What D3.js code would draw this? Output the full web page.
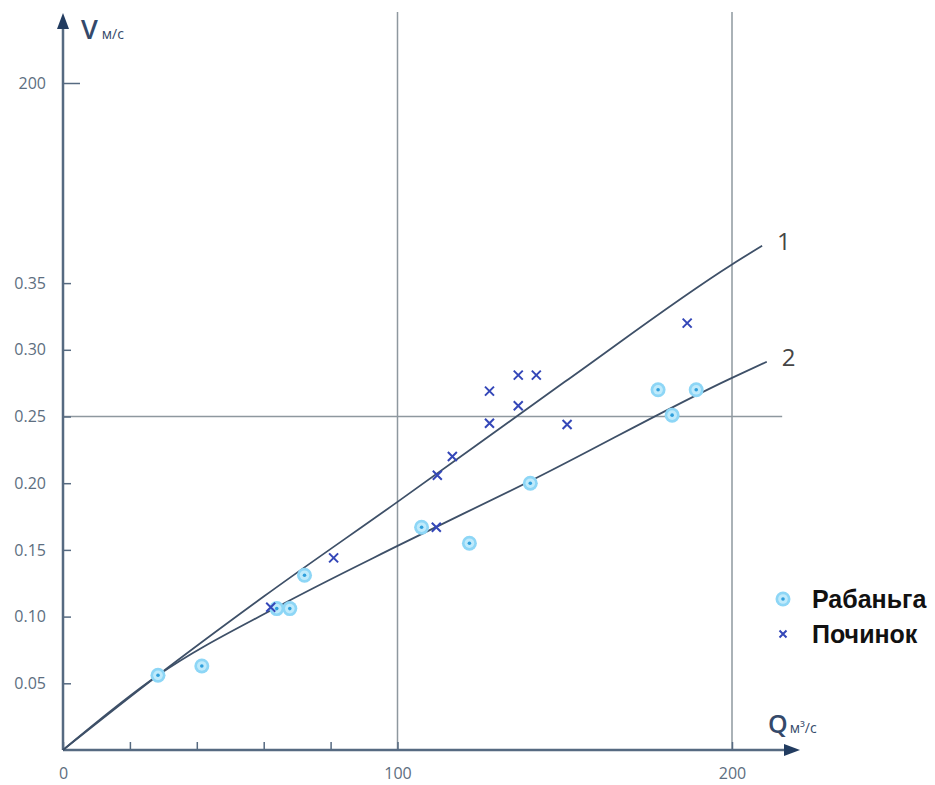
<!DOCTYPE html>
<html>
<head>
<meta charset="utf-8">
<script src="https://cdn.jsdelivr.net/npm/d3@7"></script>
<style>
  body { margin: 0; background: #fff; }
  svg { display: block; }
  .tick text { font-family: "Open Sans", sans-serif; font-size: 16px; fill: #5d6e80; }
</style>
</head>
<body>
<div class="chartWrapper"></div>
<script>
// Рабаньга: расход Q (м3/с) и скорость V (м/с)
var rabQ = [28.4, 41.5, 63.9, 67.8, 72.2, 107.2, 121.5, 139.7, 177.9, 182.1, 189.3];
var rabV = [0.056, 0.063, 0.106, 0.106, 0.131, 0.167, 0.155, 0.200, 0.270, 0.251, 0.270];
// Починок
var pochQ = [62.1, 80.9, 111.6, 111.9, 116.4, 127.5, 127.5, 136.1, 136.1, 141.5, 150.7, 186.6];
var pochV = [0.107, 0.144, 0.167, 0.206, 0.220, 0.245, 0.269, 0.258, 0.281, 0.281, 0.244, 0.320];
// кривые 1 и 2, точки
var curve1Q = [0, 28.4, 60, 100, 150, 200, 209];
var curve1V = [0, 0.056, 0.115, 0.186, 0.276, 0.364, 0.378];
var curve2Q = [0, 28.4, 63.9, 100, 140, 200, 210.4];
var curve2V = [0, 0.056, 0.107, 0.153, 0.202, 0.279, 0.291];
var curveNames = ["1", "2"];
var yTicks = [0.05, 0.10, 0.15, 0.20, 0.25, 0.30, 0.35, 0.5];
var yTickLabels = ["0.05", "0.10", "0.15", "0.20", "0.25", "0.30", "0.35", "200"];
var xTicks = [0, 20, 40, 60, 80, 100, 200];
var xTickLabels = ["0", "", "", "", "", "100", "200"];
var gridQ = [100, 200];
var gridV = [0.25];
var seriesNames = ["Рабаньга", "Починок"];

var width = 935, height = 785;
var svg = d3.select(".chartWrapper").append("svg")
    .attr("width", width).attr("height", height);

var x = d3.scaleLinear().domain([0, 200]).range([63, 732]);
var y = d3.scaleLinear().domain([0, 0.5]).range([750, 83]);
var axisColor = "#566a81", gridColor = "#8e989f";

// сетка
svg.selectAll(".vgrid").data(gridQ).enter().append("line")
    .attr("x1", d => x(d)).attr("x2", d => x(d))
    .attr("y1", 12).attr("y2", y(0))
    .attr("stroke", gridColor).attr("stroke-width", 1.5);
svg.selectAll(".hgrid").data(gridV).enter().append("line")
    .attr("x1", x(0)).attr("x2", x(215))
    .attr("y1", d => y(d)).attr("y2", d => y(d))
    .attr("stroke", gridColor).attr("stroke-width", 1.5);

// оси
var yAxis = d3.axisLeft(y).tickValues(yTicks)
    .tickFormat((d, i) => yTickLabels[i])
    .tickSizeInner(-8).tickSizeOuter(0).tickPadding(17);
var gy = svg.append("g").attr("transform", "translate(" + x(0) + ",0)").call(yAxis);
gy.select(".domain").remove();
gy.selectAll(".tick line").attr("stroke", axisColor).attr("stroke-width", 1.5)
    .attr("x2", d => d === 0.5 ? 17 : 8);

var xAxis = d3.axisBottom(x).tickValues(xTicks)
    .tickFormat((d, i) => xTickLabels[i])
    .tickSizeInner(-8).tickSizeOuter(0).tickPadding(18);
var gx = svg.append("g").attr("transform", "translate(0," + y(0) + ")").call(xAxis);
gx.select(".domain").remove();
gx.selectAll(".tick line").attr("stroke", axisColor).attr("stroke-width", 1.5);

svg.append("line").attr("x1", x(0)).attr("x2", x(0)).attr("y1", y(0)).attr("y2", 22)
    .attr("stroke", axisColor).attr("stroke-width", 2.5);
svg.append("line").attr("x1", x(0)).attr("x2", 790).attr("y1", y(0)).attr("y2", y(0))
    .attr("stroke", axisColor).attr("stroke-width", 2.5);
svg.append("path").attr("d", "M" + x(0) + ",13 L" + (x(0) - 6) + ",29 L" + (x(0) + 6) + ",29 Z")
    .attr("fill", "#223c60");
svg.append("path").attr("d", "M800," + y(0) + " L784," + (y(0) - 6) + " L784," + (y(0) + 6) + " Z")
    .attr("fill", "#223c60");

var vLab = svg.append("text").attr("x", 81).attr("y", 39)
    .style("font-family", "Open Sans, sans-serif").attr("fill", "#34496a");
vLab.append("tspan").style("font-size", "27px").style("font-weight", "600").text("V");
vLab.append("tspan").attr("dx", 4).style("font-size", "14px").text("м/с");
var qLab = svg.append("text").attr("x", 768).attr("y", 733)
    .style("font-family", "Open Sans, sans-serif").attr("fill", "#34496a");
qLab.append("tspan").style("font-size", "25px").style("font-weight", "600").text("Q");
qLab.append("tspan").attr("dx", 2).style("font-size", "14px").text("м³/с");

// кривые
var line = d3.line().x(d => x(d[0])).y(d => y(d[1])).curve(d3.curveMonotoneX);
var curves = [d3.zip(curve1Q, curve1V), d3.zip(curve2Q, curve2V)];
svg.selectAll(".curve").data(curves).enter().append("path")
    .attr("d", d => line(d))
    .attr("fill", "none").attr("stroke", "#3e5068").attr("stroke-width", 1.8);
svg.selectAll(".curveLabel").data(curves).enter().append("text")
    .attr("x", d => x(d[d.length - 1][0]) + 15)
    .attr("y", d => y(d[d.length - 1][1]) + 4)
    .style("font-family", "Open Sans, sans-serif").style("font-size", "24px")
    .attr("fill", "#454545")
    .text((d, i) => curveNames[i]);

// маркеры
function drawCircleMark(g) {
    g.append("circle").attr("r", 7.5).attr("fill", "#8dd6f6");
    g.append("circle").attr("r", 4.8).attr("fill", "#bfeafb");
    g.append("circle").attr("r", 1.8).attr("fill", "#2f9fdc");
}
function drawCross(g, s) {
    g.append("path").attr("d", "M" + (-s) + "," + (-s) + "L" + s + "," + s + "M" + (-s) + "," + s + "L" + s + "," + (-s))
        .attr("stroke", "#3447b8").attr("stroke-width", 2).attr("fill", "none");
}

svg.selectAll(".rab").data(d3.zip(rabQ, rabV)).enter().append("g")
    .attr("transform", d => "translate(" + x(d[0]) + "," + y(d[1]) + ")")
    .each(function () { drawCircleMark(d3.select(this)); });
svg.selectAll(".poch").data(d3.zip(pochQ, pochV)).enter().append("g")
    .attr("transform", d => "translate(" + x(d[0]) + "," + y(d[1]) + ")")
    .each(function () { drawCross(d3.select(this), 4.5); });

// легенда
var legend = svg.selectAll(".legend").data(seriesNames).enter().append("g")
    .attr("transform", (d, i) => "translate(783," + (599 + i * 35) + ")");
legend.each(function (d, i) {
    if (i === 0) drawCircleMark(d3.select(this));
    else drawCross(d3.select(this), 3.5);
});
legend.append("text").attr("x", 29).attr("y", 9)
    .style("font-family", "Liberation Sans, Arial, sans-serif")
    .style("font-size", "25px").style("font-weight", "bold").attr("fill", "#111")
    .text(d => d);
</script>
</body>
</html>
